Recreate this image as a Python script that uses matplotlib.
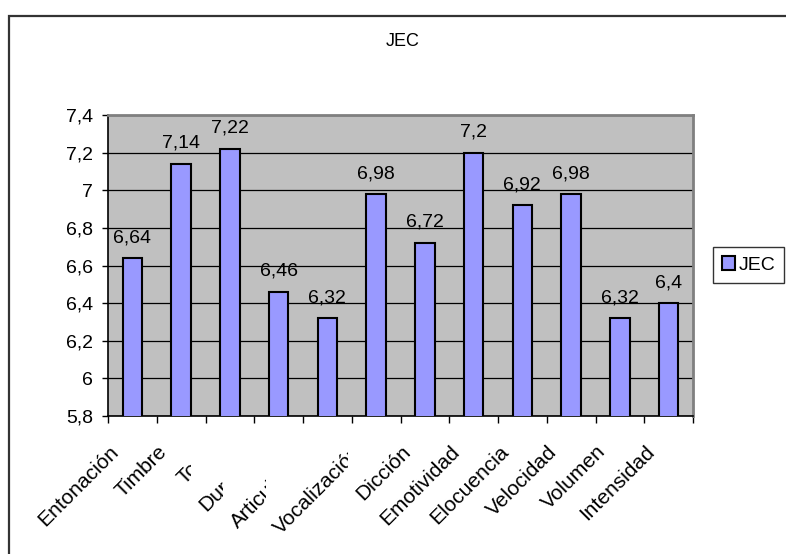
import matplotlib
matplotlib.use("Agg")
import matplotlib.pyplot as plt
import matplotlib.transforms as mtransforms
from matplotlib.patches import Rectangle, Patch
import numpy as np

categories = ["Entonación", "Timbre", "Tono", "Duración", "Articulación", "Vocalización",
              "Dicción", "Emotividad", "Elocuencia", "Velocidad", "Volumen", "Intensidad"]
values = [6.64, 7.14, 7.22, 6.46, 6.32, 6.98, 6.72, 7.2, 6.92, 6.98, 6.32, 6.4]
series_name = "JEC"
y_ticks = [5.8, 6.0, 6.2, 6.4, 6.6, 6.8, 7.0, 7.2, 7.4]
truncated = [2, 3, 4, 5]  # category labels cut off where the next label begins

plt.rcParams['font.family'] = ['Liberation Sans', 'DejaVu Sans']

W, H = 786, 554
fig = plt.figure(figsize=(W / 100, H / 100), dpi=100)
FS = 14


def fx(px):
    return px / W


def fy(py):
    return 1 - py / H


def fmt(v):
    return f"{v:g}".replace('.', ',')


# outer chart frame
fig.patches.append(Rectangle((fx(9), -0.2), 1.5, fy(16) + 0.2, transform=fig.transFigure,
                             fill=False, edgecolor='#333333', linewidth=1.6))

ax = fig.add_axes([fx(108), fy(416), fx(693) - fx(108), (416 - 115) / H])
ax.set_facecolor('#C0C0C0')
x = np.arange(len(categories))
ax.bar(x, values, width=0.4, color='#9999FF', edgecolor='black', linewidth=1.5, zorder=3)
ax.set_xlim(-0.5, len(categories) - 0.5)
ax.set_ylim(y_ticks[0], y_ticks[-1])

ax.set_yticks(y_ticks)
ax.set_yticklabels([fmt(v) for v in y_ticks])
ax.yaxis.grid(True, color='black', linewidth=0.9, zorder=1)
ax.set_axisbelow(True)
ax.tick_params(axis='y', direction='out', length=4.3, width=1, pad=6.5, labelsize=FS)

ax.set_xticks(np.arange(-0.5, len(categories), 1))
ax.set_xticklabels([])
ax.tick_params(axis='x', direction='out', length=5, width=1)

for side in ('left', 'bottom'):
    ax.spines[side].set_color('black')
    ax.spines[side].set_linewidth(1.2)
for side in ('top', 'right'):
    ax.spines[side].set_color('#808080')
    ax.spines[side].set_linewidth(2)

for i, v in enumerate(values):
    ax.annotate(fmt(v), (i, v), xytext=(0, 11.5), textcoords='offset points',
                ha='center', va='baseline', fontsize=FS)

fig.text(fx(403), fy(42), series_name, ha='center', va='center', fontsize=13)

leg = fig.legend(handles=[Patch(facecolor='#9999FF', edgecolor='black', linewidth=1.5, label=series_name)],
                 loc='center left', bbox_to_anchor=(fx(713), fy(265)), frameon=True, fancybox=False,
                 edgecolor='black', fontsize=FS, handlelength=0.7, handleheight=0.7,
                 handletextpad=0.15, borderpad=0.45, borderaxespad=0)
leg.get_frame().set_linewidth(1)

label_tf = mtransforms.blended_transform_factory(ax.transData, ax.transAxes) + \
    mtransforms.ScaledTranslation(-10 / 100, -26 / 100, fig.dpi_scale_trans)
labels = [fig.text(i, 0, name, transform=label_tf, rotation=45, ha='right', va='top', fontsize=15)
          for i, name in enumerate(categories)]

fig.canvas.draw()
renderer = fig.canvas.get_renderer()
for i in truncated:
    nxt = labels[i + 1].get_window_extent(renderer)
    labels[i].set_clip_box(mtransforms.Bbox([[0, 0], [nxt.x0 - 5, H]]))
    labels[i].set_clip_on(True)

fig.savefig('out.png', dpi=100)
